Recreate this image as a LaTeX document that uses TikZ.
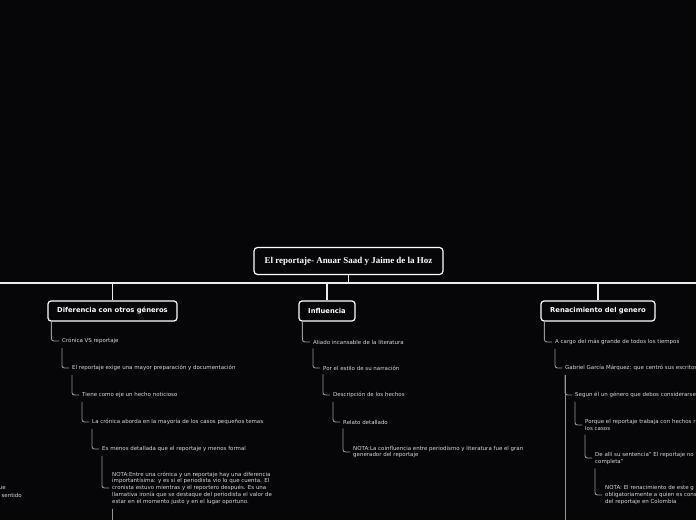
\documentclass[tikz,border=0pt]{standalone}
\usepackage{fontspec}
\setmainfont{DejaVu Sans}
\newfontfamily\titlefont{Liberation Serif}
\definecolor{bgc}{RGB}{6,6,9}
\definecolor{txtgray}{RGB}{215,215,215}
\definecolor{lingray}{RGB}{150,150,150}
\begin{document}
\begin{tikzpicture}[x=1bp,y=-1bp,
  rootbox/.style={draw=white, line width=1.2bp, rounded corners=3.5bp, fill=bgc, text=white,
    font=\titlefont\fontsize{9}{11}\selectfont\bfseries, inner sep=0pt, minimum width=189bp, minimum height=27bp},
  topic/.style={draw=white, line width=1.2bp, rounded corners=3bp, fill=bgc, text=white,
    font=\fontsize{6.8}{8}\selectfont\bfseries, inner sep=0pt, minimum height=20bp},
  item/.style={anchor=west, inner sep=0pt, text=txtgray, font=\fontsize{5.5}{6.8}\selectfont, align=left},
  conn/.style={draw=lingray, line width=0.9bp, rounded corners=2.5bp},
  mainline/.style={draw=white!92!black, line width=1.2bp}]
\fill[bgc] (0,0) rectangle (696,520);
\useasboundingbox (0,0) rectangle (696,520);

\coordinate (hl) at (0,283);
\coordinate (hr) at (696,283);
\coordinate (bottom) at (0,521);

\node[rootbox] (root) at (348.5,261) {El reportaje- Anuar Saad y Jaime de la Hoz};
\node[topic, minimum width=129bp] (dif) at (112.5,311) {Diferencia con otros géneros};
\node[topic, minimum width=56bp] (inf) at (327,311) {Influencia};
\node[topic, minimum width=114bp] (ren) at (598,311) {Renacimiento del genero};

\draw[mainline] (hl) -- (hr);
\draw[mainline] (root.south) -- (root.south |- hl);
\draw[mainline] (dif.north) -- (dif.north |- hl);
\draw[mainline] (inf.north) -- (inf.north |- hl);
\draw[mainline] (ren.north) -- (ren.north |- hl);

% Diferencia branch
\node[item] (d1) at (62,341) {Crónica VS reportaje};
\node[item] (d2) at (72,368) {El reportaje exige una mayor preparación y documentación};
\node[item] (d3) at (82,395) {Tiene como eje un hecho noticioso};
\node[item] (d4) at (92,422) {La crónica aborda en la mayoría de los casos pequeños temas};
\node[item] (d5) at (102,449) {Es menos detallada que el reportaje y menos formal};
\node[item] (d6) at (112,488) {NOTA:Entre una crónica y un reportaje hay una diferencia\\importantísima: y es si el periodista vio lo que cuenta. El\\cronista estuvo mientras y el reportero después. Es una\\llamativa ironía que se destaque del periodista el valor de\\estar en el momento justo y en el lugar oportuno.};
\draw[conn] ([xshift=4bp]dif.south west) |- ([xshift=-3bp]d1.west);
\draw[conn] ([yshift=-4bp]d1.south west) |- ([xshift=-3bp]d2.west);
\draw[conn] ([yshift=-4bp]d2.south west) |- ([xshift=-3bp]d3.west);
\draw[conn] ([yshift=-4bp]d3.south west) |- ([xshift=-3bp]d4.west);
\draw[conn] ([yshift=-4bp]d4.south west) |- ([xshift=-3bp]d5.west);
\draw[conn] ([yshift=-4bp]d5.south west) |- ([xshift=-3bp]d6.west);
\draw[conn] ([yshift=-4bp]d6.south west) -- (d6.south west |- bottom);

% partial text at left edge
\node[item, anchor=east] (l1) at (6,488) {ue};
\node[item, anchor=east] (l2) at (22,495) {sentido};

% Influencia branch
\node[item] (i1) at (313,342) {Aliado incansable de la literatura};
\node[item] (i2) at (323,368) {Por el estilo de su narración};
\node[item] (i3) at (333,395) {Descripción de los hechos};
\node[item] (i4) at (343,422) {Relato detallado};
\node[item] (i5) at (353,452) {NOTA:La coinfluencia entre periodismo y literatura fue el gran\\generador del reportaje};
\draw[conn] ([xshift=4bp]inf.south west) |- ([xshift=-3bp]i1.west);
\draw[conn] ([yshift=-4bp]i1.south west) |- ([xshift=-3bp]i2.west);
\draw[conn] ([yshift=-4bp]i2.south west) |- ([xshift=-3bp]i3.west);
\draw[conn] ([yshift=-4bp]i3.south west) |- ([xshift=-3bp]i4.west);
\draw[conn] ([yshift=-4bp]i4.south west) |- ([xshift=-3bp]i5.west);

% Renacimiento branch
\node[item] (r1) at (555,342) {A cargo del más grande de todos los tiempos};
\node[item] (r2) at (565,368) {Gabriel García Márquez: que centró sus escritos};
\node[item] (r3) at (575,395) {Segun él un género que debos considerarse};
\node[item] (r4) at (585,425) {Porque el reportaje trabaja con hechos r\\los casos};
\node[item] (r5) at (595,458) {De allí su sentencia” El reportaje no\\completa”};
\node[item] (r6) at (605,495) {NOTA: El renacimiento de este g\\obligatoriamente a quien es cons\\del reportaje en Colombia};
\draw[conn] ([xshift=4bp]ren.south west) |- ([xshift=-3bp]r1.west);
\draw[conn] ([yshift=-4bp]r1.south west) |- ([xshift=-3bp]r2.west);
\draw[conn] ([yshift=-4bp]r2.south west) -- (r2.south west |- bottom);
\draw[conn] ([yshift=-4bp]r2.south west) |- ([xshift=-3bp]r3.west);
\draw[conn] ([yshift=-4bp]r3.south west) |- ([xshift=-3bp]r4.west);
\draw[conn] ([yshift=-4bp]r4.south west) |- ([xshift=-3bp]r5.west);
\draw[conn] ([yshift=-4bp]r5.south west) |- ([xshift=-3bp]r6.west);
\end{tikzpicture}
\end{document}
